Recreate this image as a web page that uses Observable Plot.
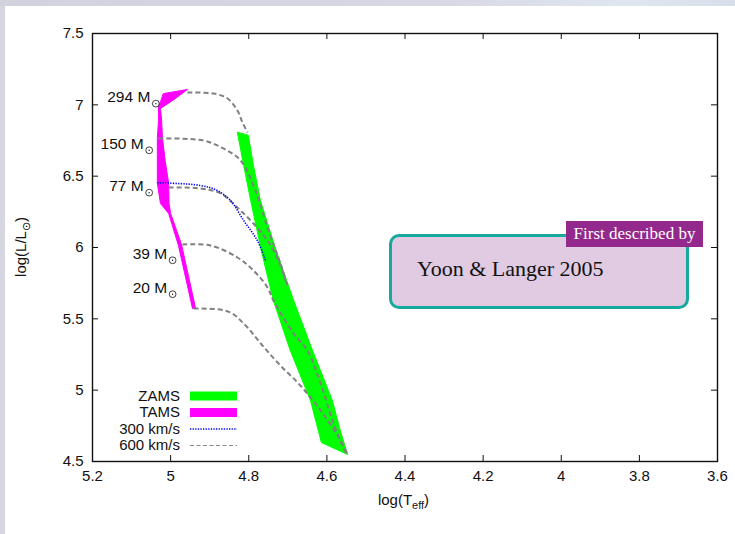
<!DOCTYPE html>
<html><head><meta charset="utf-8">
<script src="https://cdn.jsdelivr.net/npm/d3@7"></script>
<script src="https://cdn.jsdelivr.net/npm/@observablehq/plot@0.6"></script>
<style>
body{margin:0;background:#fff;}
#wrap{position:relative;width:735px;height:534px;background:#d6d6e0;overflow:hidden;font-family:"Liberation Sans",Arial,sans-serif;}
#topband{position:absolute;left:0;top:0;width:735px;height:6px;background:linear-gradient(90deg,#d2d2de 0%,#d8d8e4 60%,#dfe6f0 85%,#d8dfea 100%);}
#chart{position:absolute;left:5px;top:6px;width:730px;height:528px;background:#fff;}
.lg{position:absolute;left:90px;width:90px;text-align:right;font-size:15px;line-height:16px;color:#111;}
.sw{position:absolute;left:190px;}
#xt{position:absolute;left:0;width:735px;top:491px;text-align:center;font-size:15px;color:#111;padding-left:72px;box-sizing:border-box;}
#yt{position:absolute;left:22px;top:247px;transform:translate(-50%,-50%) rotate(-90deg);font-size:15px;color:#111;white-space:nowrap;}
#box{position:absolute;left:389px;top:234px;width:300px;height:75px;box-sizing:border-box;border:3px solid #16a99d;border-radius:10px;background:#e0cbe2;}
#boxtxt{position:absolute;left:417px;top:257px;font-family:"Liberation Serif","Times New Roman",serif;font-size:22px;color:#111;line-height:24px;}
#tag{position:absolute;left:566px;top:221px;width:137px;height:26px;background:#93288d;color:#fff;font-family:"Liberation Serif","Times New Roman",serif;font-size:17px;line-height:25px;text-align:center;}
</style></head><body>
<div id="wrap">
<div id="topband"></div>
<div id="chart"></div>
<div class="lg" style="top:388px">ZAMS</div>
<div class="lg" style="top:404px">TAMS</div>
<div class="lg" style="top:421px">300 km/s</div>
<div class="lg" style="top:437px">600 km/s</div>
<svg class="sw" style="top:388px" width="48" height="64">
  <line x1="0" x2="47" y1="8" y2="8" stroke="#00ff00" stroke-width="9"/>
  <line x1="0" x2="47" y1="24.5" y2="24.5" stroke="#ff00ff" stroke-width="9"/>
  <line x1="0" x2="47" y1="41" y2="41" stroke="#0000ee" stroke-width="1.4" stroke-dasharray="1.3,1.3"/>
  <line x1="0" x2="47" y1="57.5" y2="57.5" stroke="#888" stroke-width="1.2" stroke-dasharray="4,2.5"/>
</svg>
<div id="xt">log(T<sub style="font-size:11px">eff</sub>)</div>
<div id="yt">log(L/L<sub style="font-size:11px">⊙</sub>)</div>
<div id="box"></div>
<div id="boxtxt">Yoon &amp; Langer 2005</div>
<div id="tag">First described by</div>
</div>
<script>
// axis ticks
const xTicks = [5.2, 5, 4.8, 4.6, 4.4, 4.2, 4, 3.8, 3.6];
const yTicks = [4.5, 5, 5.5, 6, 6.5, 7, 7.5];

// ZAMS band outline (log Teff, log L)
const zamsT = [4.829, 4.813, 4.795, 4.768, 4.737, 4.694, 4.642, 4.614, 4.547, 4.568, 4.586, 4.637, 4.685, 4.730, 4.770, 4.788, 4.801];
const zamsL = [6.806, 6.575, 6.329, 5.980, 5.629, 5.280, 4.928, 4.633, 4.549, 4.740, 4.928, 5.280, 5.629, 5.980, 6.329, 6.575, 6.785];

// TAMS band outline
const tamsT = [5.018, 4.957, 4.990, 5.026, 5.023, 5.021, 5.014, 5.005, 5.004, 5.000, 4.972, 4.936, 4.944, 4.980, 5.005, 5.026, 5.034, 5.034, 5.031, 5.031];
const tamsL = [7.079, 7.108, 7.040, 6.974, 6.890, 6.771, 6.610, 6.449, 6.308, 6.238, 6.021, 5.572, 5.572, 6.014, 6.238, 6.308, 6.449, 6.771, 6.890, 6.981];

// 600 km/s tracks
const m294T = [4.957, 4.890, 4.854, 4.829, 4.816, 4.803];
const m294L = [7.086, 7.079, 7.044, 6.960, 6.876, 6.806];
const m150T = [5.031, 4.916, 4.865, 4.821, 4.783, 4.752, 4.719, 4.701];
const m150L = [6.764, 6.750, 6.694, 6.610, 6.400, 6.140, 5.888, 5.734];
const m77T  = [5.005, 4.924, 4.872, 4.829, 4.788, 4.752, 4.724, 4.706];
const m77L  = [6.421, 6.414, 6.379, 6.280, 6.168, 6.049, 5.909, 5.769];
const m39T  = [4.970, 4.898, 4.829, 4.788, 4.752, 4.737, 4.685, 4.650, 4.616, 4.583, 4.552];
const m39L  = [6.021, 6.014, 5.930, 5.839, 5.720, 5.629, 5.397, 5.278, 5.047, 4.766, 4.563];
const m20T  = [4.941, 4.852, 4.808, 4.765, 4.719, 4.668, 4.616, 4.565, 4.547];
const m20L  = [5.572, 5.551, 5.453, 5.313, 5.173, 5.033, 4.858, 4.647, 4.549];

// 300 km/s track (77 Msun)
const v300T = [5.034, 4.924, 4.881, 4.847, 4.813, 4.778, 4.757];
const v300L = [6.454, 6.435, 6.400, 6.330, 6.189, 6.049, 5.909];

// mass labels
const massNames = ["294 M", "150 M", "77 M", "39 M", "20 M"];
const massLabT = [5.052, 5.069, 5.069, 5.009, 5.009];
const massLabL = [7.054, 6.727, 6.430, 5.956, 5.718];

const zip = (T, L, m) => T.map((t, i) => ({T: t, L: L[i], m}));
const zams = zip(zamsT, zamsL, "ZAMS");
const tams = zip(tamsT, tamsL, "TAMS");
const tracks = [
  ...zip(m294T, m294L, "294"), ...zip(m150T, m150L, "150"), ...zip(m77T, m77L, "77"),
  ...zip(m39T, m39L, "39"), ...zip(m20T, m20L, "20")
];
const v300 = zip(v300T, v300L, "77");
const labels = massNames.map((n, i) => ({n, T: massLabT[i], L: massLabL[i]}));

const W = 730, H = 528, mL = 87, mR = 18, mT = 27, mB = 73;
const pw = W - mL - mR, ph = H - mT - mB, tk = 6;
const inner = d => d;

const chart = Plot.plot({
  width: W, height: H,
  marginLeft: mL, marginRight: mR, marginTop: mT, marginBottom: mB,
  style: {fontFamily: "'Liberation Sans', Arial, sans-serif", fontSize: "15px", background: "transparent", color: "#111", overflow: "visible"},
  x: {domain: [5.2, 3.6]},
  y: {domain: [4.5, 7.5]},
  marks: [
    Plot.line(zams, {x: "T", y: "L", fill: "#00ff00", stroke: "#00ff00", strokeWidth: 1, curve: "linear-closed"}),
    Plot.line(tams, {x: "T", y: "L", fill: "#ff00ff", stroke: "#ff00ff", strokeWidth: 1, curve: "linear-closed"}),
    Plot.line(tracks, {x: "T", y: "L", z: "m", stroke: "#808080", strokeWidth: 2, strokeDasharray: "5,3", strokeLinecap: "butt", curve: "catmull-rom"}),
    Plot.line(v300, {x: "T", y: "L", stroke: "#0000ee", strokeWidth: 1.6, strokeDasharray: "1.3,1.3", strokeLinecap: "butt", curve: "catmull-rom"}),
    Plot.text(labels, {x: "T", y: "L", text: "n", textAnchor: "end", lineAnchor: "middle", fontSize: 15.5, fill: "#111"}),
    Plot.dot(labels, {x: "T", y: "L", r: 3.4, dx: 5.5, dy: 6.5, stroke: "#111", strokeWidth: 0.8, fill: "none"}),
    Plot.dot(labels, {x: "T", y: "L", r: 0.7, dx: 5.5, dy: 6.5, fill: "#111", stroke: "none"}),
    Plot.tickX(xTicks, {x: inner, insetTop: ph - tk, stroke: "#111", strokeWidth: 1}),
    Plot.tickX(xTicks, {x: inner, insetBottom: ph - tk, stroke: "#111", strokeWidth: 1}),
    Plot.tickY(yTicks, {y: inner, insetRight: pw - tk, stroke: "#111", strokeWidth: 1}),
    Plot.tickY(yTicks, {y: inner, insetLeft: pw - tk, stroke: "#111", strokeWidth: 1}),
    Plot.axisX({ticks: xTicks, tickSize: 0, tickPadding: 9, tickFormat: d => String(d), label: null, fontSize: 15}),
    Plot.axisY({ticks: yTicks, tickSize: 0, tickPadding: 9, tickFormat: d => String(d), label: null, fontSize: 15}),
    Plot.frame({stroke: "#111", strokeWidth: 1.4})
  ]
});
document.getElementById("chart").appendChild(chart);
</script>
</body></html>
